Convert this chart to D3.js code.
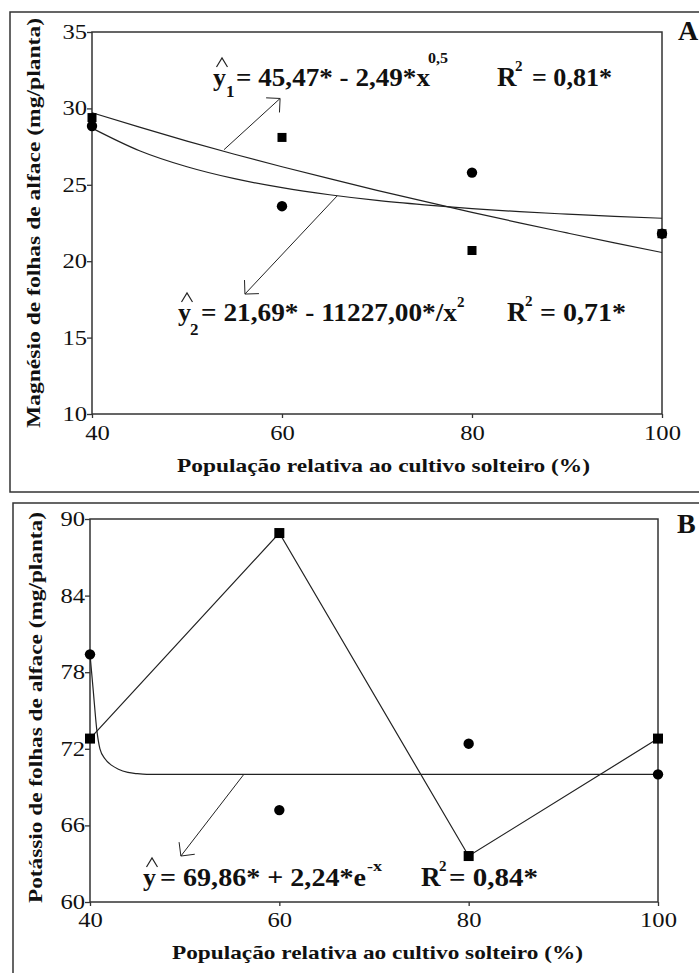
<!DOCTYPE html>
<html>
<head>
<meta charset="utf-8">
<script src="https://cdn.jsdelivr.net/npm/d3@7"></script>
<style>
  html, body { margin: 0; padding: 0; background: #fff; }
  svg { display: block; }
  text { font-family: "Liberation Serif", "Times New Roman", serif; fill: #111; }
</style>
</head>
<body>
<svg id="chart" width="699" height="973"></svg>
<script>
// ---------- data ----------
const popX = [40, 60, 80, 100];
const xTicks = [40, 60, 80, 100];

// Panel A - Magnesium
const yTicksA = [10, 15, 20, 25, 30, 35];
const mgSquare = [29.4, 28.1, 20.7, 21.8];
const mgCircle = [28.85, 23.6, 25.8, 21.8];
const fitXA = [40, 45, 50, 55, 60, 65, 70, 75, 80, 85, 90, 95, 100];
const mgFit1 = [29.72, 28.77, 27.86, 27.0, 26.18, 25.4, 24.64, 23.91, 23.2, 22.51, 21.85, 21.2, 20.57];
const mgFit2 = [28.71, 27.23, 26.18, 25.4, 24.81, 24.35, 23.98, 23.69, 23.44, 23.24, 23.08, 22.93, 22.81];

// Panel B - Potassium
const yTicksB = [60, 66, 72, 78, 84, 90];
const kSquare = [72.8, 88.9, 63.6, 72.8];
const kCircle = [79.4, 67.2, 72.4, 70.0];
const fitXB = [40, 40.35, 40.7, 41.05, 41.6, 42.3, 43.0, 44.0, 45.0, 46.0, 60, 80, 100];
const kFit = [79.4, 76.5, 73.6, 72.0, 71.2, 70.7, 70.4, 70.15, 70.05, 70.0, 70.0, 70.0, 70.0];

const titleX = "População relativa ao cultivo solteiro (%)";
const titleYA = "Magnésio de folhas de alface (mg/planta)";
const titleYB = "Potássio de folhas de alface (mg/planta)";

// ---------- drawing ----------
const svg = d3.select("#chart");
svg.append("rect").attr("width", 699).attr("height", 973).attr("fill", "#fff");

const INK = "#222";

function txt(g, s, x, y, size, o = {}) {
  const t = g.append("text").attr("x", x).attr("y", y)
    .attr("font-size", size)
    .attr("font-weight", o.bold === false ? "normal" : "bold")
    .attr("text-anchor", o.anchor || "start")
    .text(s);
  if (o.width) t.attr("textLength", o.width).attr("lengthAdjust", "spacingAndGlyphs");
  if (o.transform) t.attr("transform", o.transform);
  return t;
}

function hat(g, x, y) {
  g.append("path")
    .attr("d", `M${x + 3.5},${y - 19} L${x + 9},${y - 28} L${x + 14.5},${y - 19}`)
    .attr("fill", "none").attr("stroke", INK).attr("stroke-width", 1.2);
}

// "R" followed by superscript "2" directly after it, then "= value" at eqX
function rSquared(g, x, y, eqX, value, valW) {
  const r = txt(g, "R", x, y, 27);
  const bb = r.node().getBBox();
  txt(g, "2", bb.x + bb.width - 2, y - 15, 15);
  txt(g, "= " + value, eqX, y, 26, { width: valW });
}

function arrow(g, x0, y0, x1, y1) {
  g.append("line").attr("x1", x0).attr("y1", y0).attr("x2", x1).attr("y2", y1)
    .attr("stroke", INK).attr("stroke-width", 1);
  const ang = Math.atan2(y0 - y1, x0 - x1);
  const L = 14;
  [Math.PI / 4, -Math.PI / 4].forEach(d => {
    g.append("line").attr("x1", x1).attr("y1", y1)
      .attr("x2", x1 + L * Math.cos(ang + d)).attr("y2", y1 + L * Math.sin(ang + d))
      .attr("stroke", INK).attr("stroke-width", 1);
  });
}

function panel(cfg) {
  const g = svg.append("g");
  g.append("rect").attr("x", cfg.frame[0]).attr("y", cfg.frame[1])
    .attr("width", cfg.frame[2]).attr("height", cfg.frame[3])
    .attr("fill", "none").attr("stroke", "#333").attr("stroke-width", 1.5);

  const x = d3.scaleLinear().domain([40, 100]).range([cfg.l, cfg.r]);
  const y = d3.scaleLinear().domain(cfg.yDom).range([cfg.b, cfg.t]);

  g.append("rect").attr("x", cfg.l).attr("y", cfg.t)
    .attr("width", cfg.r - cfg.l).attr("height", cfg.b - cfg.t)
    .attr("fill", "none").attr("stroke", "#333").attr("stroke-width", 1.5);

  const ax = g.append("g").attr("transform", `translate(0,${cfg.b})`)
    .call(d3.axisBottom(x).tickValues(xTicks).tickSize(4).tickPadding(cfg.xPad).tickFormat(d3.format("d")));
  const ay = g.append("g").attr("transform", `translate(${cfg.l},0)`)
    .call(d3.axisLeft(y).tickValues(cfg.yTicks).tickSize(5).tickPadding(0).tickFormat(d3.format("d")));
  [ax, ay].forEach(a => {
    a.select(".domain").remove();
    a.selectAll("line").attr("stroke", "#333").attr("stroke-width", 1.3);
    a.selectAll("text").attr("font-size", 20).attr("fill", "#111")
      .attr("textLength", d => String(d).length * 12.3)
      .attr("lengthAdjust", "spacingAndGlyphs");
  });
  if (cfg.firstXShift) {
    ax.selectAll(".tick").filter(d => d === 40).select("text").attr("x", cfg.firstXShift);
  }

  const line = d3.line().x(d => x(d[0])).y(d => y(d[1]));
  cfg.curves.forEach(c => {
    const pts = c.xs.map((v, i) => [v, c.ys[i]]);
    g.append("path").attr("d", line.curve(c.curve)(pts))
      .attr("fill", "none").attr("stroke", INK).attr("stroke-width", 1.2);
  });

  g.selectAll(".c").data(popX.map((v, i) => [v, cfg.circles[i]])).join("circle")
    .attr("cx", d => x(d[0])).attr("cy", d => y(d[1])).attr("r", 5.2).attr("fill", "#000");
  const s = cfg.sq;
  g.selectAll(".s").data(popX.map((v, i) => [v, cfg.squares[i]])).join("rect")
    .attr("x", d => x(d[0]) - s / 2).attr("y", d => y(d[1]) - s / 2)
    .attr("width", s).attr("height", s).attr("fill", "#000");

  txt(g, titleX, cfg.xTitle[0], cfg.xTitle[1], 19, { anchor: "middle", width: cfg.xTitle[2] });
  txt(g, cfg.yTitle, 0, 0, 19, { anchor: "middle", width: cfg.yTitleP[2],
    transform: `translate(${cfg.yTitleP[0]},${cfg.yTitleP[1]}) rotate(-90)` });
  txt(g, cfg.letter, cfg.letterP[0], cfg.letterP[1], 28);

  cfg.arrows.forEach(a => arrow(g, x(a[0]), y(a[1]), x(a[2]), y(a[3])));
  return g;
}

// ----- Panel A -----
const gA = panel({
  frame: [10, 12, 720, 480],
  l: 92, r: 662, t: 32, b: 414,
  yDom: [10, 35], yTicks: yTicksA, xPad: 8, firstXShift: 5,
  squares: mgSquare, circles: mgCircle, sq: 9,
  curves: [
    { xs: fitXA, ys: mgFit1, curve: d3.curveMonotoneX },
    { xs: fitXA, ys: mgFit2, curve: d3.curveMonotoneX }
  ],
  xTitle: [383.5, 472, 413],
  yTitle: titleYA, yTitleP: [40, 223, 410],
  letter: "A", letterP: [678, 40],
  arrows: [[53.9, 27.3, 59.8, 30.65], [65.8, 24.27, 56.1, 17.85]]
});

// equation 1
txt(gA, "y", 213, 86, 26); hat(gA, 213, 86);
txt(gA, "1", 226, 97, 17);
txt(gA, "= 45,47* - 2,49*x", 236, 86, 26, { width: 194 });
txt(gA, "0,5", 428, 63, 15, { width: 20 });
rSquared(gA, 497, 86, 532, "0,81*", 80);

// equation 2
txt(gA, "y", 178, 321, 26); hat(gA, 178, 321);
txt(gA, "2", 190, 335, 17);
txt(gA, "= 21,69* - 11227,00*/x", 201, 321, 26, { width: 256 });
txt(gA, "2", 457, 307, 15);
rSquared(gA, 507, 321, 540, "0,71*", 86);

// ----- Panel B -----
const gB = panel({
  frame: [13, 503, 720, 490],
  l: 90, r: 658, t: 519, b: 902,
  yDom: [60, 90], yTicks: yTicksB, xPad: 7,
  squares: kSquare, circles: kCircle, sq: 10,
  curves: [
    { xs: popX, ys: kSquare, curve: d3.curveLinear },
    { xs: fitXB, ys: kFit, curve: d3.curveMonotoneX }
  ],
  xTitle: [377.5, 959, 411],
  yTitle: titleYB, yTitleP: [42, 707.5, 391],
  letter: "B", letterP: [677, 533],
  arrows: [[56.2, 69.95, 49.6, 63.6]]
});

txt(gB, "y", 143, 886, 26); hat(gB, 143, 886);
txt(gB, "= 69,86* + 2,24*e", 160, 886, 26, { width: 206 });
txt(gB, "-x", 367, 871, 15, { width: 15 });
rSquared(gB, 421, 886, 449, "0,84*", 89);
</script>
</body>
</html>
